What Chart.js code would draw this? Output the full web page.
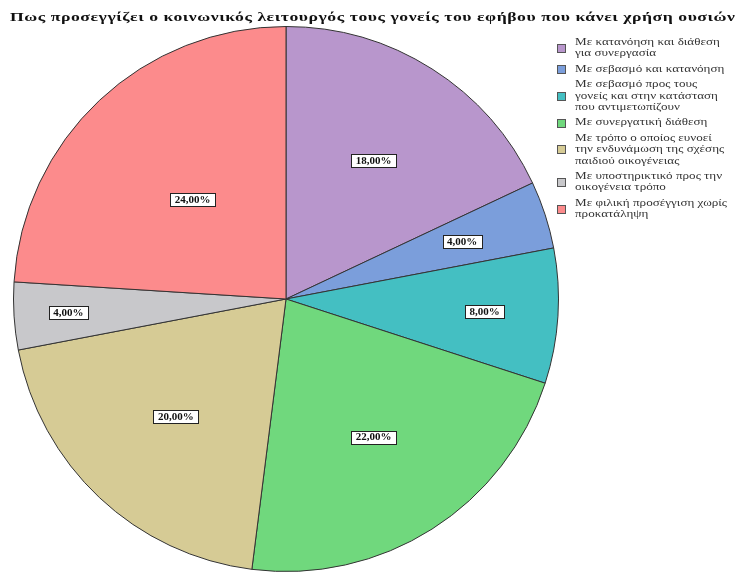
<!DOCTYPE html>
<html>
<head>
<meta charset="utf-8">
<script src="https://cdn.jsdelivr.net/npm/chart.js@4"></script>
<style>
html,body{margin:0;padding:0;background:#fff;overflow:hidden}
#wrap{position:relative;width:736px;height:574px;overflow:hidden}
#title{position:absolute;left:10px;top:9px;white-space:nowrap;font:bold 13px "Liberation Serif",serif;letter-spacing:0.4px;color:#111;transform:scaleX(1.36);transform-origin:0 0}
#legend{position:absolute;left:557px;top:37px;width:175px;font:9.5px "Liberation Serif",serif;color:#333;line-height:11.4px}
.item{display:flex;align-items:center;margin-bottom:4px}
.box{width:7px;height:7px;border:1px solid #555;margin-right:9px;flex:none}
.txt{white-space:pre;transform:scaleX(1.38);transform-origin:0 50%}
</style>
</head>
<body>
<div id="wrap">
<canvas id="pie" width="736" height="574"></canvas>
<div id="title"></div>
<div id="legend"></div>
</div>
<script>
const titleText="Πως προσεγγίζει ο κοινωνικός λειτουργός τους γονείς του εφήβου που κάνει χρήση ουσιών"

// categories (line breaks as in the legend)
const categories=[
"Με κατανόηση και διάθεση\nγια συνεργασία",
"Με σεβασμό και κατανόηση",
"Με σεβασμό προς τους\nγονείς και στην κατάσταση\nπου αντιμετωπίζουν",
"Με συνεργατική διάθεση",
"Με τρόπο ο οποίος ευνοεί\nτην ενδυνάμωση της σχέσης\nπαιδιού οικογένειας",
"Με υποστηρικτικό προς την\nοικογένεια τρόπο",
"Με φιλική προσέγγιση χωρίς\nπροκατάληψη"
]

// percentages
const percents=[18,4,8,22,20,4,24]

const colors=["#b896cc","#7b9edb","#44bfc2","#70d87d","#d6cb95","#c8c8cb","#fc8b8c"]

// how far out each value box sits (fraction of radius)
const labelRadius=[0.6,0.68,0.73,0.6,0.59,0.8,0.5]

document.getElementById("title").innerText=titleText

const legend=document.getElementById("legend")
categories.forEach((c,i)=>{
let item=document.createElement("div")
item.className="item"
let box=document.createElement("div")
box.className="box"
box.style.background=colors[i]
let txt=document.createElement("div")
txt.className="txt"
txt.innerText=c
item.appendChild(box)
item.appendChild(txt)
legend.appendChild(item)
})

// boxed percentage labels inside the slices
const valueLabels={
id:"valueLabels",
afterDatasetsDraw(chart){
const ctx=chart.ctx
const meta=chart.getDatasetMeta(0)
ctx.save()
ctx.font="bold 11px 'Liberation Serif', serif"
ctx.textAlign="center"
ctx.textBaseline="middle"
meta.data.forEach((arc,i)=>{
const p=arc.getProps(["x","y","startAngle","endAngle","outerRadius"],true)
const mid=(p.startAngle+p.endAngle)/2
const r=p.outerRadius*labelRadius[i]
const x=p.x+Math.cos(mid)*r
const y=p.y+Math.sin(mid)*r
const text=percents[i].toFixed(2).replace(".",",")+"%"
const w=Math.round(ctx.measureText(text).width+9)
const h=13
const bx=Math.round(x-w/2)+0.5
const by=Math.round(y-h/2)+0.5
ctx.fillStyle="#fff"
ctx.fillRect(bx,by,w,h)
ctx.strokeStyle="#222"
ctx.lineWidth=1
ctx.strokeRect(bx,by,w,h)
ctx.fillStyle="#111"
ctx.fillText(text,x,y+0.5)
})
ctx.restore()
}
}

new Chart(document.getElementById("pie"),{
type:"pie",
data:{
labels:categories,
datasets:[{
data:percents,
backgroundColor:colors,
borderColor:"#333",
borderWidth:1
}]
},
options:{
responsive:false,
animation:false,
layout:{padding:{left:13,right:177,top:26,bottom:2}},
plugins:{
legend:{display:false},
tooltip:{enabled:false}
}
},
plugins:[valueLabels]
})
</script>
</body>
</html>
